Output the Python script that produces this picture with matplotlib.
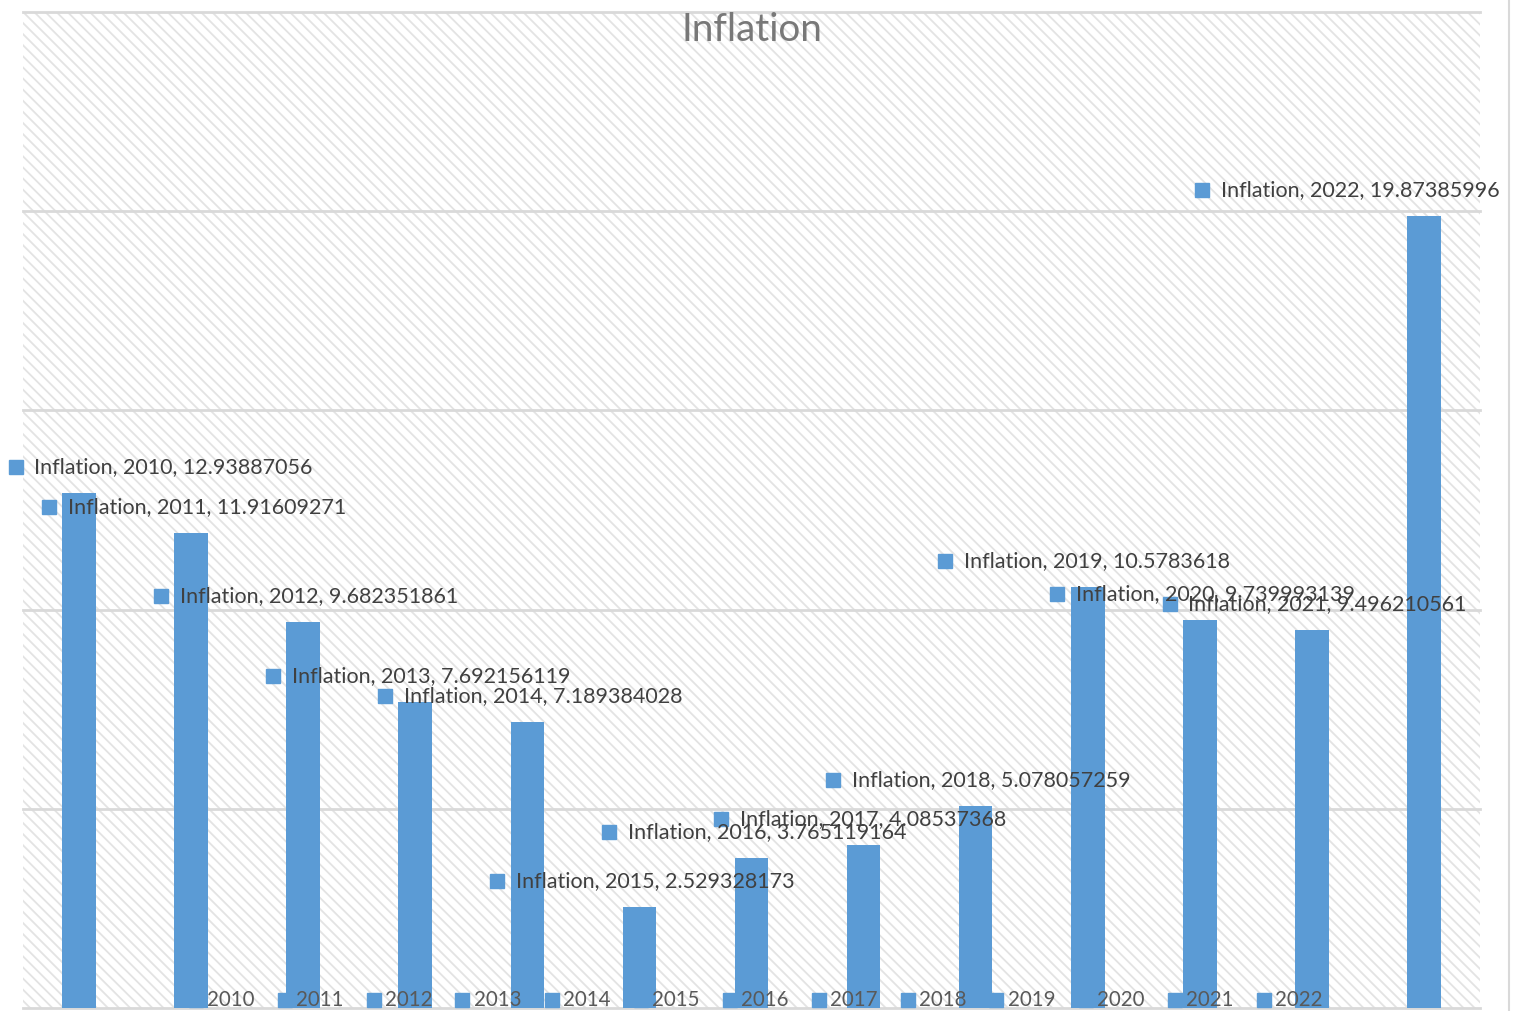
import matplotlib
matplotlib.use("Agg")
import matplotlib.pyplot as plt
from matplotlib.patches import Rectangle
from matplotlib.lines import Line2D
import numpy as np

plt.rcParams['font.family'] = ['Lato', 'DejaVu Sans']
plt.rcParams['hatch.linewidth'] = 1.3

# inflation by year
years = ['2010', '2011', '2012', '2013', '2014', '2015', '2016',
         '2017', '2018', '2019', '2020', '2021', '2022']
inflation = [12.93887056, 11.91609271, 9.682351861, 7.692156119, 7.189384028,
             2.529328173, 3.765119164, 4.08537368, 5.078057259, 10.5783618,
             9.739993139, 9.496210561, 19.87385996]
series_name = 'Inflation'

BLUE = '#5B9BD5'
GRID = '#d9d9d9'

W, H = 1518, 1011
fig = plt.figure(figsize=(W / 100, H / 100), dpi=100)
ax = fig.add_axes([23 / W, 1 - 1008 / H, (1480 - 23) / W, (1008 - 12) / H])

# patterned plot area
ax.add_patch(Rectangle((0, 0), 1, 1, transform=ax.transAxes, facecolor='white',
                       edgecolor='#e3e3e3', hatch='\\\\\\', linewidth=0, zorder=0))

x = np.arange(len(years))
ax.bar(x, inflation, width=0.3, color=BLUE, zorder=3)

ax.set_xlim(-0.5, 12.5)
ax.set_ylim(0, 25)
for gy in range(0, 26, 5):
    ax.axhline(gy, color=GRID, lw=2, zorder=1, clip_on=False)
for s in ax.spines.values():
    s.set_visible(False)
ax.set_xticks([])
ax.set_yticks([])

# data labels: marker + "series, category, value", shifted up-left of the bar
for xi, v, yr in zip(x, inflation, years):
    lx = np.clip(xi - 1.27, -0.565, 10.02)
    ly = v + 0.65
    ax.plot(lx, ly, marker='s', ms=9.5, color=BLUE, clip_on=False, zorder=5)
    ax.annotate(f'{series_name}, {yr}, {v:.10g}', (lx, ly), xytext=(13.5, 0),
                textcoords='offset points', va='center', ha='left',
                fontsize=15.5, color='#404040', zorder=6, annotation_clip=False)

# legend along the bottom
for k, yr in enumerate(years):
    px = 195.5 + 89 * k
    fig.add_artist(Line2D([px / W], [1 - 1000 / H], marker='s', ms=9.5,
                          color=BLUE, transform=fig.transFigure, zorder=2))
    fig.text((px + 11.5) / W, 1 - 1000 / H, yr, ha='left', va='center',
             fontsize=14.8, color='#595959', zorder=10)

ax.set_title('Inflation', fontsize=27.8, color='#787878', y=0.982, va='center', pad=0)

# chart border on the right
fig.add_artist(Line2D([1509 / W, 1509 / W], [0, 1], color=GRID, lw=1.5,
                      transform=fig.transFigure))

fig.savefig('out.png', dpi=100)
